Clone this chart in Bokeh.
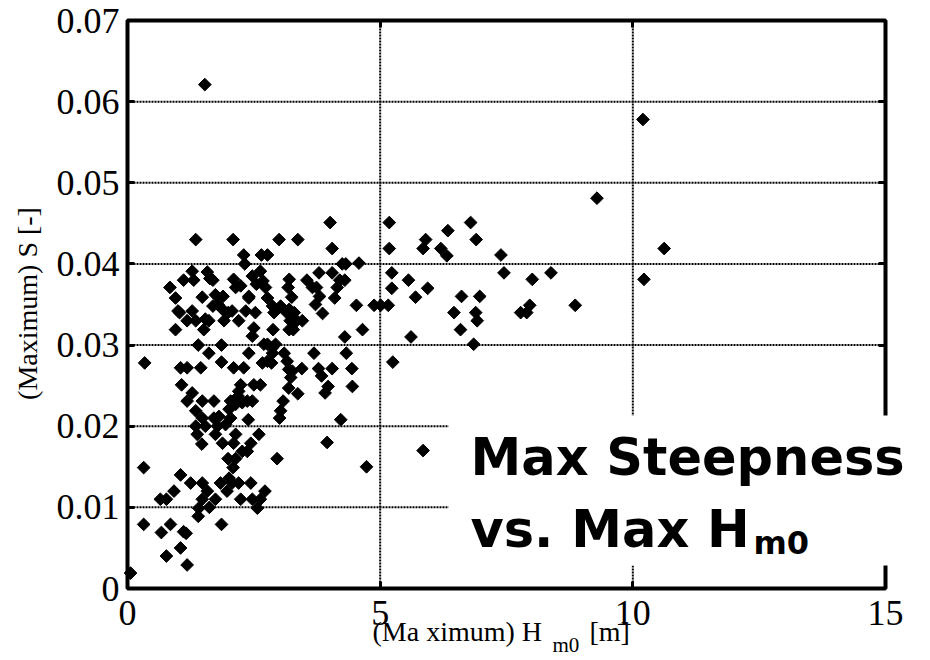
import math
from bokeh.plotting import figure
from bokeh.models import (FixedTicker, CustomJSTickFormatter, Label, BoxAnnotation,
                          Range1d, ColumnDataSource, LinearAxis, BasicTickFormatter)
from bokeh.embed import file_html
from bokeh.resources import INLINE

# ---------------- data ----------------
hm0 = [
    1.53, 10.20, 9.29, 10.62, 10.22,
    5.18, 5.18, 5.90, 5.85, 6.34, 6.20, 6.32, 6.79, 6.90, 7.39, 7.45, 8.01, 8.38,
    6.61, 6.97, 6.46, 6.89, 6.92, 6.59, 6.85, 7.78, 7.90, 7.96, 8.86,
    5.23, 5.56, 5.94, 5.23, 5.70, 4.58, 4.53, 4.88, 5.01, 5.16, 4.65, 5.61, 5.25,
    5.85, 4.73,
    4.01, 3.37, 3.00, 2.09, 1.35, 4.05, 4.25, 4.32, 3.79, 4.05, 3.55, 4.20, 4.30,
    3.66, 3.74, 3.80, 4.15, 4.10, 3.72, 3.86, 3.46, 4.30, 3.69, 4.33, 3.45, 3.78,
    3.84, 4.05, 4.44, 4.45, 3.97, 3.91, 3.37, 3.95, 4.22,
    3.20, 3.18, 3.25, 3.20, 3.30, 3.22, 3.35, 3.28, 3.20, 3.15, 3.03, 2.87, 2.88,
    2.93, 2.70, 2.87, 2.77, 2.67, 2.85, 3.10, 3.16, 3.19, 3.23, 3.26, 3.19, 3.08,
    3.03, 3.01, 2.96, 2.77, 2.87, 2.90,
    2.30, 2.65, 2.77, 2.32, 2.47, 2.55, 2.63, 2.68, 2.73, 2.77, 2.10, 2.14, 2.24, 2.40,
    1.74, 1.89, 1.69, 1.79, 1.88, 1.91, 2.07, 2.20, 2.34, 1.99, 2.53, 2.40, 2.50, 2.47,
    0.84, 0.95, 1.03, 1.11, 1.31, 1.28, 1.58, 1.69, 1.48, 1.00, 1.28, 1.18, 1.54,
    0.95, 1.51, 1.35, 1.61, 1.63,
    1.40, 1.86, 1.61, 1.86, 2.40, 0.34, 1.05, 1.18, 1.45, 2.10, 2.30, 1.07, 1.28,
    1.18, 1.48, 1.71, 2.24, 2.20, 2.50, 2.63, 2.04, 2.27, 2.37, 2.47, 2.19, 2.14,
    1.35, 1.35, 1.54, 1.48, 1.78, 1.71, 1.81, 1.94, 2.01, 2.04, 2.39, 1.38, 1.47,
    1.74, 1.88, 2.10, 2.14, 2.60, 2.44, 2.27, 2.37, 1.99, 2.14, 2.09, 0.32, 1.05,
    1.25, 1.48, 1.84, 2.01, 2.07, 2.20, 2.44, 1.58, 1.97, 0.92, 2.72, 0.65, 0.77,
    1.48, 1.74, 2.24, 2.47, 2.63, 1.41, 1.62, 2.57, 1.40, 0.32, 0.85, 1.86, 0.67,
    1.11, 1.16, 1.05, 0.77, 1.18, 0.06,
]
steep = [
    0.0621, 0.0578, 0.0481, 0.0419, 0.0381,
    0.0451, 0.0419, 0.0430, 0.0419, 0.0441, 0.0419, 0.0410, 0.0451, 0.0430, 0.0411, 0.0389, 0.0381, 0.0389,
    0.0360, 0.0360, 0.0340, 0.0340, 0.0330, 0.0319, 0.0301, 0.0340, 0.0340, 0.0349, 0.0349,
    0.0389, 0.0380, 0.0370, 0.0370, 0.0359, 0.0401, 0.0349, 0.0349, 0.0349, 0.0349, 0.0319, 0.0310, 0.0279,
    0.0170, 0.0150,
    0.0451, 0.0430, 0.0430, 0.0430, 0.0430, 0.0419, 0.0400, 0.0400, 0.0389, 0.0389, 0.0380, 0.0380, 0.0380,
    0.0371, 0.0371, 0.0360, 0.0371, 0.0358, 0.0350, 0.0339, 0.0330, 0.0310, 0.0290, 0.0290, 0.0271, 0.0271,
    0.0262, 0.0271, 0.0271, 0.0249, 0.0249, 0.0241, 0.0240, 0.0180, 0.0208,
    0.0381, 0.0371, 0.0359, 0.0344, 0.0340, 0.0330, 0.0330, 0.0319, 0.0319, 0.0340, 0.0348, 0.0348, 0.0319,
    0.0301, 0.0301, 0.0290, 0.0280, 0.0278, 0.0278, 0.0290, 0.0280, 0.0270, 0.0260, 0.0268, 0.0247, 0.0231,
    0.0219, 0.0210, 0.0160, 0.0301, 0.0297, 0.0340,
    0.0411, 0.0411, 0.0411, 0.0400, 0.0385, 0.0375, 0.0391, 0.0379, 0.0371, 0.0358, 0.0381, 0.0371, 0.0373, 0.0358,
    0.0362, 0.0360, 0.0348, 0.0350, 0.0344, 0.0330, 0.0342, 0.0330, 0.0342, 0.0340, 0.0340, 0.0360, 0.0321, 0.0311,
    0.0371, 0.0358, 0.0340, 0.0380, 0.0380, 0.0391, 0.0390, 0.0380, 0.0359, 0.0342, 0.0342, 0.0330, 0.0332,
    0.0319, 0.0319, 0.0330, 0.0330, 0.0382,
    0.0300, 0.0300, 0.0290, 0.0279, 0.0290, 0.0278, 0.0272, 0.0272, 0.0272, 0.0272, 0.0272, 0.0251, 0.0241,
    0.0231, 0.0231, 0.0231, 0.0251, 0.0243, 0.0251, 0.0251, 0.0231, 0.0229, 0.0231, 0.0231, 0.0237, 0.0227,
    0.0219, 0.0200, 0.0200, 0.0210, 0.0200, 0.0210, 0.0212, 0.0202, 0.0221, 0.0210, 0.0208, 0.0190, 0.0178,
    0.0190, 0.0179, 0.0179, 0.0190, 0.0190, 0.0179, 0.0169, 0.0169, 0.0160, 0.0160, 0.0149, 0.0149, 0.0140,
    0.0130, 0.0130, 0.0130, 0.0136, 0.0130, 0.0130, 0.0130, 0.0120, 0.0120, 0.0120, 0.0120, 0.0110, 0.0110,
    0.0110, 0.0110, 0.0110, 0.0110, 0.0110, 0.0099, 0.0100, 0.0099, 0.0089, 0.0079, 0.0079, 0.0079, 0.0069,
    0.0070, 0.0068, 0.0050, 0.0040, 0.0029, 0.0019,
]

x_ticks = [0, 5, 10, 15]
y_ticks = [0, 0.01, 0.02, 0.03, 0.04, 0.05, 0.06, 0.07]
x_label = "(Ma ximum) H"
x_label_sub = "m0"
x_label_unit = "[m]"
y_label = "(Maximum) S [-]"
title_1 = "Max Steepness"
title_2 = "vs. Max H"
title_sub = "m0"

# ---------------- layout (pixel geometry of the frame) ----------------
W, H = 930, 660
FL, FR, FT, FB = 127, 885, 20, 588
XMIN, XMAX = x_ticks[0], x_ticks[-1]
YMIN, YMAX = y_ticks[0], y_ticks[-1]


def dx(px):
    return XMIN + (px - FL) / (FR - FL) * (XMAX - XMIN)


def dy(py):
    return YMIN + (FB - py) / (FB - FT) * (YMAX - YMIN)


# the bokeh frame covers the whole canvas; the plotted box is drawn from the axis limits
p = figure(width=W, height=H, x_range=Range1d(dx(0), dx(W)), y_range=Range1d(dy(H), dy(0)),
           output_backend="svg", toolbar_location=None,
           x_axis_type=None, y_axis_type=None, min_border=0)
p.background_fill_color = "white"
p.border_fill_color = "white"
p.outline_line_color = None

TICK_FONT = "Liberation Serif"
TICK_SIZE = "36px"


def style_axis(ax):
    ax.axis_line_color = None
    ax.major_tick_in = 7
    ax.major_tick_out = 0
    ax.major_tick_line_width = 3
    ax.major_tick_line_color = "black"
    ax.minor_tick_line_color = None
    ax.major_label_text_font = TICK_FONT
    ax.major_label_text_font_size = TICK_SIZE
    ax.major_label_text_color = "black"


xaxis = LinearAxis(ticker=FixedTicker(ticks=x_ticks), formatter=BasicTickFormatter(),
                   fixed_location=YMIN, bounds=(XMIN, XMAX))
style_axis(xaxis)
xaxis.major_label_standoff = 12
p.add_layout(xaxis, "below")

yaxis = LinearAxis(ticker=FixedTicker(ticks=y_ticks),
                   formatter=CustomJSTickFormatter(code="return tick == 0 ? '0' : tick.toFixed(2);"),
                   fixed_location=XMIN, bounds=(YMIN, YMAX))
style_axis(yaxis)
yaxis.major_label_standoff = 8
p.add_layout(yaxis, "left")

empty = CustomJSTickFormatter(code="return '';")
xaxis_top = LinearAxis(ticker=FixedTicker(ticks=x_ticks), formatter=empty,
                       fixed_location=YMAX, bounds=(XMIN, XMAX))
style_axis(xaxis_top)
p.add_layout(xaxis_top, "above")
yaxis_right = LinearAxis(ticker=FixedTicker(ticks=y_ticks), formatter=empty,
                         fixed_location=XMAX, bounds=(YMIN, YMAX))
style_axis(yaxis_right)
p.add_layout(yaxis_right, "right")

# dotted grid lines at the tick positions
p.segment(x0=x_ticks, y0=[YMIN] * len(x_ticks), x1=x_ticks, y1=[YMAX] * len(x_ticks),
          line_color="black", line_width=2, line_dash="2 1", level="underlay")
p.segment(x0=[XMIN] * len(y_ticks), y0=y_ticks, x1=[XMAX] * len(y_ticks), y1=y_ticks,
          line_color="black", line_width=2, line_dash="2 1", level="underlay")

src = ColumnDataSource(data=dict(x=hm0, y=steep))
p.scatter("x", "y", source=src, marker="square", angle=math.pi / 4, size=9,
          fill_color="black", line_color="black", line_width=1)

# plot box
p.quad(left=[XMIN], right=[XMAX], bottom=[YMIN], top=[YMAX],
       fill_color=None, line_color="black", line_width=4)

# white box behind the big caption
p.add_layout(BoxAnnotation(left=dx(448), right=dx(915), bottom=dy(565), top=dy(415),
                           fill_color="white", fill_alpha=1.0, line_color=None,
                           level="annotation"))

serif = "Liberation Serif"
p.add_layout(Label(x=dx(27), y=dy(303), text=y_label, angle=math.pi / 2,
                   text_align="center", text_baseline="middle",
                   text_font=serif, text_font_size="28px", text_color="black"))
p.add_layout(Label(x=dx(372), y=dy(631), text=x_label, text_align="left",
                   text_baseline="alphabetic", text_font=serif, text_font_size="28px",
                   text_color="black"))
p.add_layout(Label(x=dx(552), y=dy(644), text=x_label_sub, text_align="left",
                   text_baseline="alphabetic", text_font=serif, text_font_size="21px",
                   text_color="black"))
p.add_layout(Label(x=dx(589), y=dy(631), text=x_label_unit, text_align="left",
                   text_baseline="alphabetic", text_font=serif, text_font_size="28px",
                   text_color="black"))

sans = "DejaVu Sans"
p.add_layout(Label(x=dx(470), y=dy(457), text=title_1, text_align="left",
                   text_baseline="alphabetic", text_font=sans, text_font_style="bold",
                   text_font_size="51px", text_color="black"))
p.add_layout(Label(x=dx(470), y=dy(529), text=title_2, text_align="left",
                   text_baseline="alphabetic", text_font=sans, text_font_style="bold",
                   text_font_size="51px", text_color="black"))
p.add_layout(Label(x=dx(753), y=dy(542), text=title_sub, text_align="left",
                   text_baseline="alphabetic", text_font=sans, text_font_style="bold",
                   text_font_size="32px", text_color="black"))

open("out.html", "w").write(file_html(p, INLINE))
